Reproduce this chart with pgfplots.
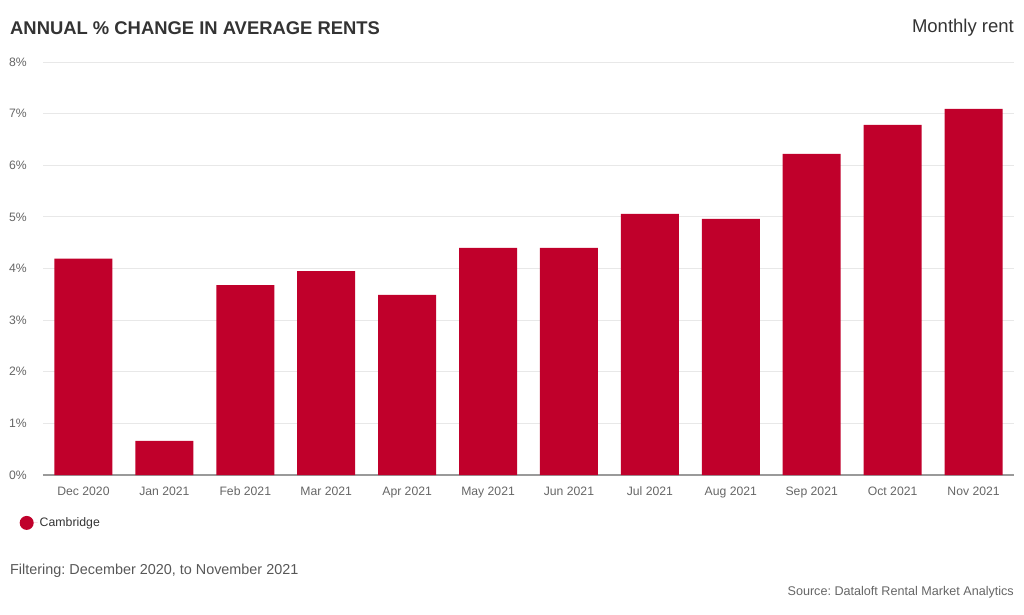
\documentclass[border=0pt]{standalone}
\usepackage{pgfplots}
\pgfplotsset{compat=1.18}
\usepackage{fontspec}
\setmainfont{Liberation Sans}
\frenchspacing
\definecolor{barred}{HTML}{C0002B}
\definecolor{gridgray}{HTML}{E8E8E8}
\definecolor{axisgray}{HTML}{9A9A9A}
\definecolor{ticktext}{HTML}{666666}
\definecolor{titletext}{HTML}{333333}
\begin{document}
\begin{tikzpicture}
\path[use as bounding box] (0pt,0pt) rectangle (1024pt,614pt);
\begin{axis}[
    at={(43pt,139pt)}, anchor=south west,
    scale only axis,
    width=971pt, height=413pt,
    ybar, bar width=58pt, bar shift=0pt,
    xmin=-0.5, xmax=11.5,
    ymin=0, ymax=8,
    xtick=data,
    xticklabels={Dec 2020,Jan 2021,Feb 2021,Mar 2021,Apr 2021,May 2021,Jun 2021,Jul 2021,Aug 2021,Sep 2021,Oct 2021,Nov 2021},
    ytick={0,1,...,8},
    yticklabel={\pgfmathprintnumber{\tick}\%},
    /pgf/number format/assume math mode=true,
    axis line style={draw=none},
    major tick length=0pt,
    ymajorgrids,
    grid style={color=gridgray, line width=1pt},
    extra y ticks={0},
    extra y tick labels={},
    extra y tick style={grid style={color=axisgray, line width=1.3pt}},
    tick label style={font=\fontsize{12.2}{14}\selectfont, text=ticktext},
    yticklabel style={inner sep=0pt, anchor=east, xshift=-16pt},
    xticklabel style={inner sep=0pt, anchor=base, yshift=-20.5pt},
    legend style={at={(axis description cs:-0.0242,-0.116)}, anchor=west,
        draw=none, fill=none, inner sep=0pt,
        font=\fontsize{12.3}{14}\selectfont, text=titletext},
    legend image code/.code={\fill[barred] (7pt,0pt) circle (7pt); \path (0pt,0pt) -- (18pt,0pt);},
]
\addplot[fill=barred, draw=none] coordinates {
    (0,4.19) (1,0.66) (2,3.68) (3,3.95) (4,3.49) (5,4.40)
    (6,4.40) (7,5.06) (8,4.96) (9,6.22) (10,6.78) (11,7.09)
};
\addlegendentry{Cambridge}
\end{axis}
\node[anchor=west, inner sep=0pt, text=titletext, font=\fontsize{18.4}{21}\selectfont\bfseries] at (10pt,586pt) {ANNUAL \% CHANGE IN AVERAGE RENTS};
\node[anchor=east, inner sep=0pt, text=titletext, font=\fontsize{18.5}{21}\selectfont] at (1014pt,586pt) {Monthly rent};
\node[anchor=west, inner sep=0pt, text=ticktext!85!black, font=\fontsize{14.4}{17}\selectfont] at (10pt,43pt) {Filtering: December 2020, to November 2021};
\node[anchor=east, inner sep=0pt, text=ticktext, font=\fontsize{12.6}{15}\selectfont] at (1014pt,22pt) {Source: Dataloft Rental Market Analytics};
\end{tikzpicture}
\end{document}
